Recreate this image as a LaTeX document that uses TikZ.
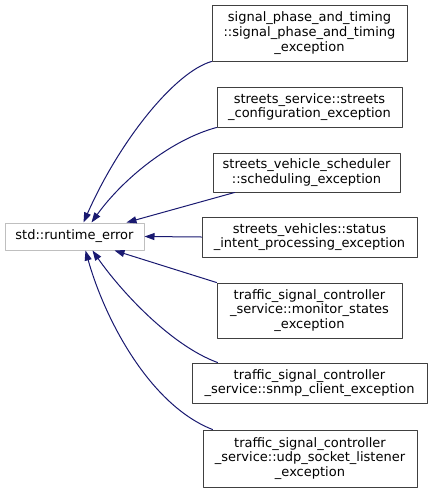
\documentclass[tikz,border=0pt]{standalone}
\usepackage{fontspec}
\setmainfont{DejaVu Sans}
\usetikzlibrary{arrows.meta}

\definecolor{edgecol}{HTML}{191970}
\definecolor{boxcol}{HTML}{404040}
\definecolor{basecol}{HTML}{BFBFBF}

\begin{document}
\begin{tikzpicture}[x=1pt, y=-1pt, line cap=round, line join=round,
  font=\fontsize{13}{14.7}\selectfont,
  classbox/.style={draw=boxcol, line width=1pt, align=center, inner sep=0pt},
  basebox/.style={classbox, draw=basecol},
  inherit/.style={edgecol, line width=1pt, -{Triangle[length=10pt, width=7pt]}}]

  \useasboundingbox (0,0) rectangle (432,491);

  % ===== 基底クラス =====
  \node[basebox, minimum width=139pt, minimum height=27pt] (rterr) at (74.5,236.5)
  {std::runtime\_error};

  % ===== 派生クラス =====
  \node[classbox, minimum width=195pt, minimum height=56pt] (spat) at (309.5,33)
  {signal\_phase\_and\_timing\\::signal\_phase\_and\_timing\\\_exception};

  \node[classbox, minimum width=185pt, minimum height=40pt] (cfg) at (309.5,107)
  {streets\_service::streets\\\_configuration\_exception};

  \node[classbox, minimum width=187pt, minimum height=39pt] (sched) at (306.5,172.5)
  {streets\_vehicle\_scheduler\\::scheduling\_exception};

  \node[classbox, minimum width=215pt, minimum height=40pt] (intent) at (309.5,237)
  {streets\_vehicles::status\\\_intent\_processing\_exception};

  \node[classbox, minimum width=185pt, minimum height=55pt] (monit) at (309.5,310.5)
  {traffic\_signal\_controller\\\_service::monitor\_states\\\_exception};

  \node[classbox, minimum width=235pt, minimum height=40pt] (snmp) at (309.5,383)
  {traffic\_signal\_controller\\\_service::snmp\_client\_exception};

  \node[classbox, minimum width=214pt, minimum height=57pt] (udp) at (310,458.5)
  {traffic\_signal\_controller\\\_service::udp\_socket\_listener\\\_exception};

  % ===== 継承の矢印 =====
  \draw[inherit] (spat.south west)
  .. controls (175,72) and (120,140) .. ([xshift=79pt]rterr.north west);

  \draw[inherit] (cfg.south west)
  .. controls (170,140) and (122,180) .. ([xshift=87pt]rterr.north west);

  \draw[inherit] ([xshift=22pt]sched.south west) -- ([xshift=122pt]rterr.north west);

  \draw[inherit] (intent.west) -- (rterr.east);

  \draw[inherit] (monit.north west) -- ([xshift=110pt]rterr.south west);

  \draw[inherit] ([xshift=26pt]snmp.north west)
  .. controls (170,345) and (120,290) .. ([xshift=88pt]rterr.south west);

  \draw[inherit] ([xshift=10pt]udp.north west)
  .. controls (150,405) and (105,320) .. ([xshift=81pt]rterr.south west);

\end{tikzpicture}
\end{document}
